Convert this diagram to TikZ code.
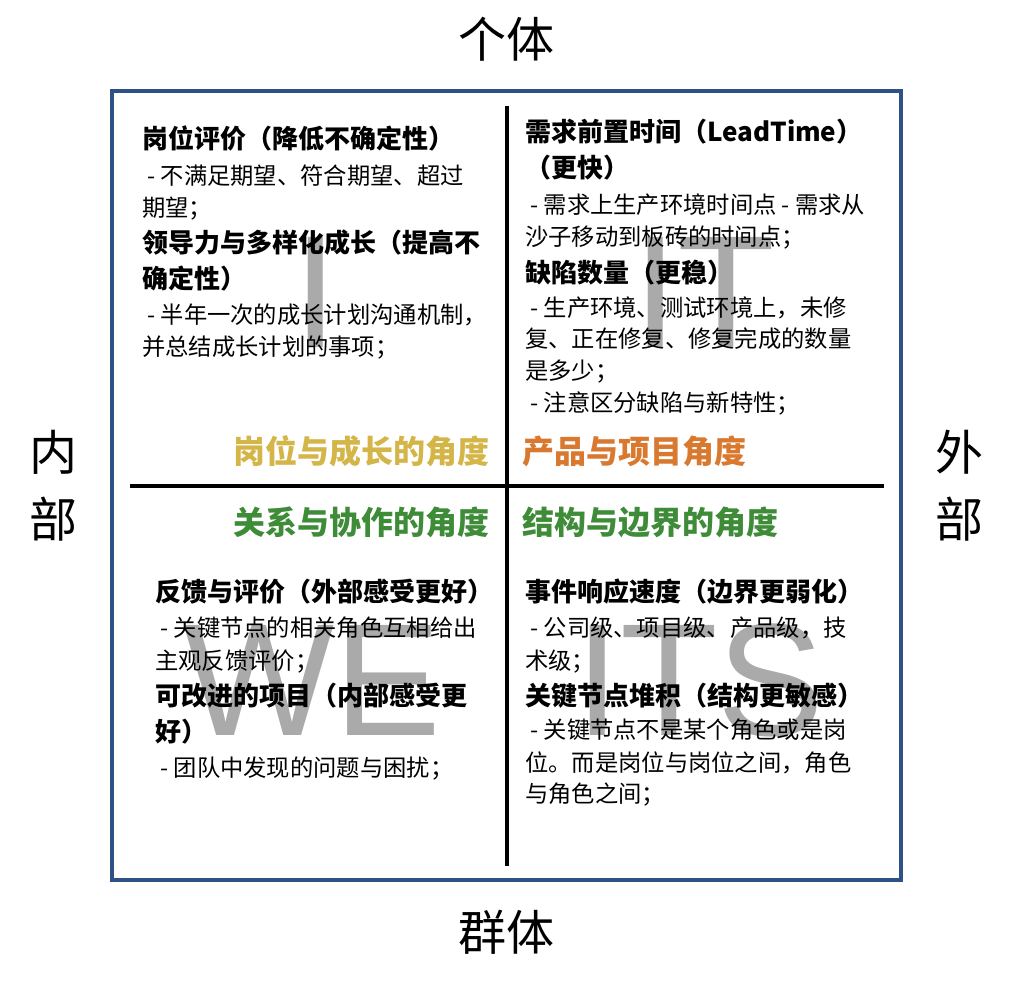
\documentclass[tikz,border=0pt]{standalone}
\usepackage{fontspec}
\setmainfont{Noto Sans CJK SC}
\newfontfamily\latinfont{Liberation Sans}
\definecolor{frameblue}{RGB}{46,82,131}
\definecolor{growthgold}{RGB}{212,181,72}
\definecolor{productorange}{RGB}{216,121,47}
\definecolor{viewgreen}{RGB}{62,139,56}
\definecolor{lettergray}{RGB}{170,170,170}

\begin{document}
\begin{tikzpicture}[
    x=1pt, y=-1pt,
    itemhead/.style={anchor=base west, inner sep=0pt, font=\fontsize{26}{32}\selectfont\bfseries},
    itembody/.style={anchor=base west, inner sep=0pt, font=\fontsize{23.3}{31}\selectfont},
    viewlabel/.style={inner sep=0pt, font=\fontsize{32}{38}\selectfont\bfseries},
    axislabel/.style={inner sep=0pt, align=center, font=\fontsize{48}{67}\selectfont},
    bigletter/.style={anchor=base, inner sep=0pt, text=lettergray, font=\latinfont\fontsize{160}{160}\selectfont},
    divider/.style={line width=3.5pt, black}
]
\useasboundingbox[fill=white] (0,0) rectangle (1036,980);

% background letters
\node[bigletter] (letterI) at (316,347) {I};
\node[bigletter, anchor=base west] (letterIT) at (633,347) {IT};
\node[bigletter] (letterWE) at (312,735) {WE};
\node[bigletter] (letterITS) at (700,735) {ITS};

% frame and dividers
\draw[line width=4pt, frameblue] (112,91) rectangle (901,880);
\coordinate (vtop) at (507,106);
\coordinate (vbot) at (507,866);
\coordinate (hleft) at (130,486);
\coordinate (hright) at (884,486);
\draw[divider] (vtop) -- (vbot);
\draw[divider] (hleft) -- (hright);

% axis labels
\node[axislabel, anchor=base] (indiv) at (506,57) {个体};
\node[axislabel, anchor=base] (group) at (506,950) {群体};
\node[axislabel] (inner) at (53,486) {内\\部};
\node[axislabel] (outer) at (959,486) {外\\部};

% top left
\node[itemhead] (tl1) at (142,148) {岗位评价（降低不确定性）};
\node[itembody] (tl2) at ([yshift=-36pt]tl1.base west) {\ - 不满足期望、符合期望、超过};
\node[itembody] (tl3) at ([yshift=-32pt]tl2.base west) {期望；};
\node[itemhead] (tl4) at ([yshift=-36pt]tl3.base west) {领导力与多样化成长（提高不};
\node[itemhead] (tl5) at ([yshift=-36pt]tl4.base west) {确定性）};
\node[itembody] (tl6) at ([yshift=-35pt]tl5.base west) {\ - 半年一次的成长计划沟通机制，};
\node[itembody] (tl7) at ([yshift=-32pt]tl6.base west) {并总结成长计划的事项；};
\node[viewlabel, anchor=base east, text=growthgold] (growth) at (490,463) {岗位与成长的角度};

% top right
\node[itemhead] (tr1) at (525,141) {需求前置时间（LeadTime）};
\node[itemhead] (tr2) at ([yshift=-36pt]tr1.base west) {（更快）};
\node[itembody] (tr3) at ([yshift=-36pt]tr2.base west) {\ - 需求上生产环境时间点 - 需求从};
\node[itembody] (tr4) at ([yshift=-32pt]tr3.base west) {沙子移动到板砖的时间点；};
\node[itemhead] (tr5) at ([yshift=-37pt]tr4.base west) {缺陷数量（更稳）};
\node[itembody] (tr6) at ([yshift=-34pt]tr5.base west) {\ - 生产环境、测试环境上，未修};
\node[itembody] (tr7) at ([yshift=-31pt]tr6.base west) {复、正在修复、修复完成的数量};
\node[itembody] (tr8) at ([yshift=-32pt]tr7.base west) {是多少；};
\node[itembody] (tr9) at ([yshift=-32pt]tr8.base west) {\ - 注意区分缺陷与新特性；};
\node[viewlabel, anchor=base west, text=productorange] (product) at (522,463) {产品与项目角度};

% bottom left
\node[viewlabel, anchor=base east, text=viewgreen] (relation) at (490,534) {关系与协作的角度};
\node[itemhead] (bl1) at (155,601) {反馈与评价（外部感受更好）};
\node[itembody] (bl2) at ([yshift=-35pt]bl1.base west) {\ - 关键节点的相关角色互相给出};
\node[itembody] (bl3) at ([yshift=-33pt]bl2.base west) {主观反馈评价；};
\node[itemhead] (bl4) at ([yshift=-36pt]bl3.base west) {可改进的项目（内部感受更};
\node[itemhead] (bl5) at ([yshift=-36pt]bl4.base west) {好）};
\node[itembody] (bl6) at ([yshift=-35pt]bl5.base west) {\ - 团队中发现的问题与困扰；};

% bottom right
\node[viewlabel, anchor=base west, text=viewgreen] (boundary) at (522,534) {结构与边界的角度};
\node[itemhead] (br1) at (525,601) {事件响应速度（边界更弱化）};
\node[itembody] (br2) at ([yshift=-35pt]br1.base west) {\ - 公司级、项目级、产品级，技};
\node[itembody] (br3) at ([yshift=-33pt]br2.base west) {术级；};
\node[itemhead] (br4) at ([yshift=-36pt]br3.base west) {关键节点堆积（结构更敏感）};
\node[itembody] (br5) at ([yshift=-33pt]br4.base west) {\ - 关键节点不是某个角色或是岗};
\node[itembody] (br6) at ([yshift=-33pt]br5.base west) {位。而是岗位与岗位之间，角色};
\node[itembody] (br7) at ([yshift=-31pt]br6.base west) {与角色之间；};
\end{tikzpicture}
\end{document}
